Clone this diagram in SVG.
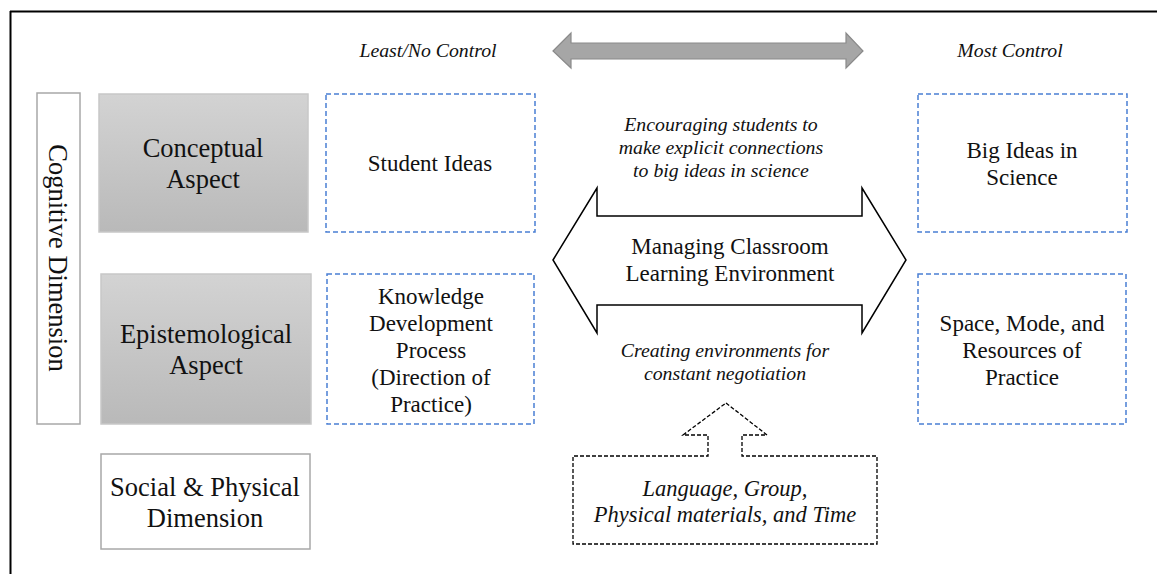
<svg xmlns="http://www.w3.org/2000/svg" width="1157" height="574" viewBox="0 0 1157 574">
<defs>
<linearGradient id="gray" x1="0" y1="0" x2="0" y2="1">
<stop offset="0" stop-color="#d3d3d3"/>
<stop offset="1" stop-color="#b9b9b9"/>
</linearGradient>
<style>
text{font-family:"Liberation Serif","DejaVu Serif",serif;fill:#111;text-anchor:middle}
.big{font-size:26.5px}
.mid{font-size:23px}
.it{font-style:italic;font-size:19.8px}
.itl{font-style:italic;font-size:22.5px}
.aspect{fill:url(#gray);stroke:#c8c8c8;stroke-width:1.5}
.plain{fill:#fff;stroke:#a8a8a8;stroke-width:1.5}
.dash{fill:#fff;stroke:#4a7fd4;stroke-width:1.5;stroke-dasharray:5 3}
</style>
</defs>
<rect width="1157" height="574" fill="#fff"/>
<g id="frame" stroke="#000" stroke-width="2" fill="none">
<line x1="10" y1="11.5" x2="1157" y2="11.5"/>
<line x1="10.5" y1="11" x2="10.5" y2="574"/>
</g>
<g id="control-scale">
<text class="it" x="428" y="57">Least/No Control</text>
<text class="it" x="1010" y="57">Most Control</text>
<polygon points="553,51 571,33 571,43 846,43 846,33 863,51 846,68 846,59 571,59 571,68" fill="#a6a6a6" stroke="#8a8a8a" stroke-width="1.2"/>
</g>
<g id="cognitive-dimension">
<rect class="plain" x="37" y="93" width="43" height="331"/>
<text class="big" transform="translate(49,258) rotate(90)">Cognitive Dimension</text>
</g>
<g id="conceptual-aspect">
<rect class="aspect" x="99" y="94" width="209" height="138"/>
<text class="big" x="203" y="157">Conceptual</text>
<text class="big" x="203" y="188">Aspect</text>
</g>
<g id="epistemological-aspect">
<rect class="aspect" x="101" y="274" width="210" height="150"/>
<text class="big" x="206" y="343">Epistemological</text>
<text class="big" x="206" y="374">Aspect</text>
</g>
<g id="social-physical">
<rect class="plain" x="101" y="454" width="209" height="95"/>
<text class="big" x="205" y="496">Social &amp; Physical</text>
<text class="big" x="205" y="527">Dimension</text>
</g>
<g id="student-ideas">
<rect class="dash" x="326" y="94" width="209" height="138"/>
<text class="mid" x="430" y="171">Student Ideas</text>
</g>
<g id="knowledge-development">
<rect class="dash" x="327" y="274" width="207" height="150"/>
<text class="mid" x="431" y="304">Knowledge</text>
<text class="mid" x="431" y="331">Development</text>
<text class="mid" x="431" y="358">Process</text>
<text class="mid" x="431" y="385">(Direction of</text>
<text class="mid" x="431" y="412">Practice)</text>
</g>
<g id="big-ideas">
<rect class="dash" x="918" y="94" width="209" height="138"/>
<text class="mid" x="1022" y="158">Big Ideas in</text>
<text class="mid" x="1022" y="185">Science</text>
</g>
<g id="space-mode">
<rect class="dash" x="918" y="274" width="208" height="150"/>
<text class="mid" x="1022" y="331">Space, Mode, and</text>
<text class="mid" x="1022" y="358">Resources of</text>
<text class="mid" x="1022" y="385">Practice</text>
</g>
<g id="managing-environment">
<polygon points="553,260 597,188 597,216 862,216 862,188 906,260 862,333 862,305 597,305 597,333" fill="#fff" stroke="#000" stroke-width="1.5"/>
<text class="mid" x="730" y="254">Managing Classroom</text>
<text class="mid" x="730" y="281">Learning Environment</text>
</g>
<g id="annotations">
<text class="it" x="721" y="131">Encouraging students to</text>
<text class="it" x="721" y="154">make explicit connections</text>
<text class="it" x="721" y="177">to big ideas in science</text>
<text class="it" x="725" y="357">Creating environments for</text>
<text class="it" x="725" y="380">constant negotiation</text>
</g>
<g id="language-group">
<polygon points="726,403 767,435 742,435 742,456 877,456 877,544 573,544 573,456 708,456 708,435 683,435" fill="#fff" stroke="#000" stroke-width="1.3" stroke-dasharray="4 2"/>
<text class="itl" x="725" y="496">Language, Group,</text>
<text class="itl" x="725" y="522">Physical materials, and Time</text>
</g>
</svg>
